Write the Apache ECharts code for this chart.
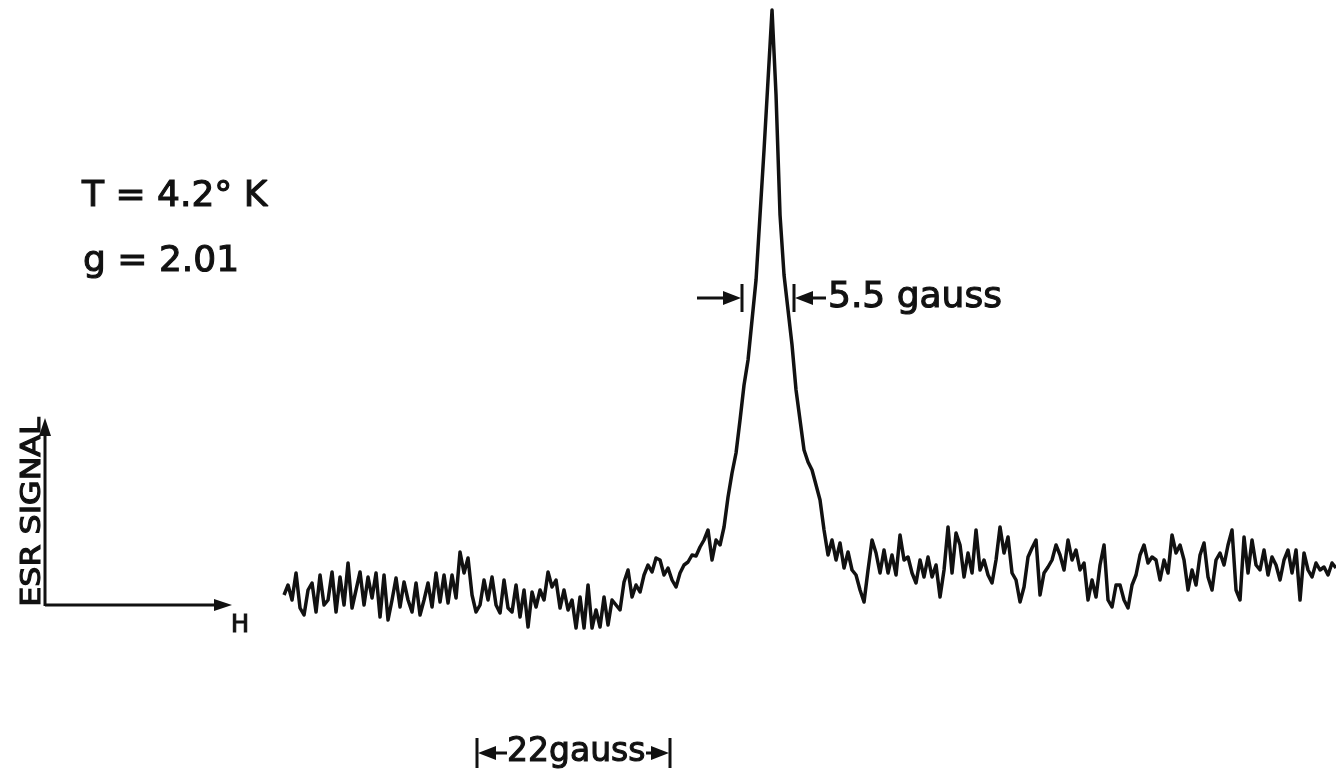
<!DOCTYPE html>
<html>
<head>
<meta charset="utf-8">
<title>ESR signal</title>
<script src="https://cdn.jsdelivr.net/npm/echarts@6/dist/echarts.min.js"></script>
<style>
  html, body { margin: 0; padding: 0; background: #fff; }
  #chart { width: 1336px; height: 775px; }
</style>
</head>
<body>
<div id="chart"></div>
<script>
// field sweep in gauss (zero = start of trace), one reading every fieldStep
const fieldStart = 0.23;
const fieldStep = 0.453;

// ESR signal, arbitrary units
const signalLow = [5.5, 6.5, 5.0, 7.7, 4.2, 3.5, 6.0, 6.7, 3.8, 7.5, 4.5, 5.0, 7.8, 3.8, 7.3, 4.5, 8.7,
  4.2, 6.0, 7.8, 4.5, 7.3, 5.2, 7.7, 3.3, 7.5, 3.0, 5.0, 7.2, 4.3, 6.8, 5.0, 3.8, 6.7, 3.5, 5.0, 6.7,
  4.3, 7.7, 4.8, 7.5, 4.7, 7.5, 5.2, 9.8, 7.7, 9.2, 5.5, 3.8, 4.5, 7.0];
const signalLine = [5.0, 7.3, 4.5, 3.7, 7.0, 4.2, 3.8, 6.5, 3.3, 6.0, 2.3, 5.8, 4.3, 6.0, 5.0, 7.8,
  6.3, 7.0, 4.2, 6.0, 4.0, 5.0, 2.2, 5.3, 2.2, 6.5, 2.2, 4.0, 2.3, 5.3, 2.5, 5.0, 4.5, 4.0, 6.8, 8.0,
  5.3, 6.5, 5.8, 7.5, 8.5, 7.8, 9.2, 9.0, 7.5, 8.2, 7.0, 6.3, 7.7, 8.5, 8.8, 9.5, 9.4, 10.3, 11.0,
  12.0, 9.0, 11.0, 10.5, 12.3, 15.3, 17.7, 19.7, 23.0, 26.5, 29.0, 33.0, 37.0, 43.5, 50.0, 57.0,
  64.0, 55.5, 43.5, 37.5, 34.0, 30.5, 26.0, 23.0, 20.0, 18.8, 18.0, 16.5, 15.0, 12.0, 9.5];
const signalHigh1 = [11.0, 9.0, 10.7, 8.2, 9.8, 8.0, 7.5, 6.0, 4.8, 8.0, 11.0, 9.7, 7.7, 10.0, 7.7,
  9.5, 7.5, 11.5, 9.0, 9.3, 7.7, 6.7, 9.0, 7.3, 9.3, 7.3, 8.5, 5.3, 8.0, 12.3, 7.7, 11.7, 10.5, 7.3,
  9.7, 7.7, 12.0, 8.0, 9.0];
const signalHigh2 = [7.5, 6.7, 9.0, 12.3, 9.7, 11.3, 7.7, 7.0, 4.8, 6.3, 9.3, 10.2, 11.0, 5.5, 7.7,
  8.3, 9.0, 10.5, 9.5, 8.0, 11.0, 9.0, 10.0, 8.0, 8.7, 5.0, 7.0, 5.3, 8.5, 10.5, 5.0, 4.3, 6.5, 6.5,
  5.0, 4.2, 6.5, 7.5, 9.5, 10.5, 8.7, 9.3];
const signalHigh3 = [9.0, 7.0, 9.0, 7.7, 11.5, 9.7, 10.5, 9.0, 6.0, 8.0, 6.5, 9.5, 10.7, 7.3, 6.0,
  9.0, 9.7, 8.5, 10.5, 12.0, 6.0, 5.0, 11.3, 7.7, 11.0, 8.5, 8.0, 10.0, 7.5, 9.3, 8.5, 7.0, 9.0,
  10.0, 7.7, 10.0, 5.0, 9.7, 8.0, 7.3, 8.7, 8.0, 8.3, 7.5, 8.7, 8.2];

const signal = [...signalLow, ...signalLine, ...signalHigh1, ...signalHigh2, ...signalHigh3];
const field = signal.map((_, i) => +(fieldStart + i * fieldStep).toFixed(3));

const conditions = ['T = 4.2° K', 'g = 2.01'];
const widthLabel = '5.5 gauss';
const scaleLabel = '22gauss';
const axisNames = ['ESR SIGNAL', 'H'];

const ink = '#111';
const font = '"DejaVu Sans", sans-serif';

function seg(x1, y1, x2, y2, w) {
  return { type: 'line', shape: { x1, y1, x2, y2 }, style: { stroke: ink, lineWidth: w || 3 } };
}
function head(points) {
  return { type: 'polygon', shape: { points }, style: { fill: ink } };
}
function label(text, x, y, size, align, extra) {
  return Object.assign({
    type: 'text', x, y,
    style: {
      text, fill: ink, stroke: ink, lineWidth: 1.1, fontSize: size, fontFamily: font,
      align: align || 'left', verticalAlign: 'middle'
    }
  }, extra || {});
}

let chart = echarts.init(document.getElementById('chart'));
chart.setOption({
  animation: false,
  backgroundColor: '#fff',
  grid: { left: 0, right: 0, top: 0, bottom: 0 },
  xAxis: { type: 'value', min: -31.937, max: 119.366, show: false },
  yAxis: { type: 'value', min: -12.5, max: 65, show: false },
  series: [
    {
      type: 'line',
      data: field.map((h, i) => [h, signal[i]]),
      showSymbol: false,
      lineStyle: { color: ink, width: 3.5, join: 'round' },
      silent: true
    }
  ],
  graphic: [
    label(conditions[0], 82, 197, 36),
    label(conditions[1], 83, 262, 36),
    // sketch of the axes
    seg(45, 606, 45, 432),
    head([[45, 418], [39, 436], [51, 436]]),
    seg(45, 605, 218, 605),
    head([[232, 605], [214, 599], [214, 611]]),
    label(axisNames[0], 33, 512, 26, 'center', { rotation: Math.PI / 2, scaleX: 1.22 }),
    label(axisNames[1], 231, 626, 24),
    // line width marker
    seg(697, 298, 728, 298),
    head([[741, 298], [723, 291], [723, 305]]),
    seg(742, 284, 742, 312),
    seg(794, 284, 794, 312),
    head([[795, 298], [813, 291], [813, 305]]),
    seg(810, 298, 826, 298),
    label(widthLabel, 828, 298, 36),
    // field scale
    seg(477, 738, 477, 768),
    head([[478, 753], [496, 746], [496, 760]]),
    seg(493, 753, 507, 753),
    label(scaleLabel, 507, 752, 33),
    seg(646, 753, 656, 753),
    head([[669, 753], [651, 746], [651, 760]]),
    seg(670, 738, 670, 768)
  ]
});
</script>
</body>
</html>
